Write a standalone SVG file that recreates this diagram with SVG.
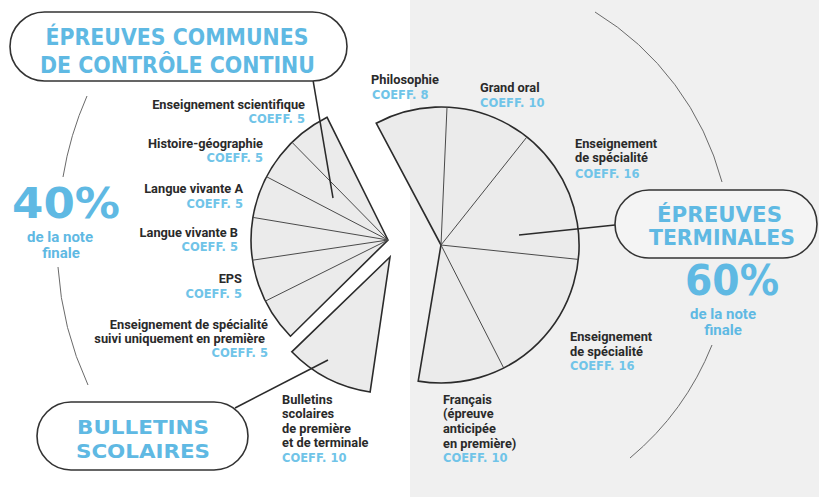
<svg xmlns="http://www.w3.org/2000/svg" width="819" height="497" viewBox="0 0 819 497">
<style>
.bg{fill:#ffffff}
.bg2{fill:#f0f0f0}
.pie{fill:#ebebeb;stroke:#2b2b2b;stroke-width:1.6;stroke-linejoin:miter}
.div{stroke:#4a4a4a;stroke-width:1;fill:none}
.box{stroke:#333;stroke-width:1.6}
.conn{stroke:#2b2b2b;stroke-width:1.5;fill:none}
.ring{stroke:#6a6a6a;stroke-width:1;fill:none}
.ttl{font-family:"DejaVu Sans",sans-serif;font-weight:bold;fill:#5fb9e3;text-anchor:middle}
.pct{font-family:"DejaVu Sans",sans-serif;font-weight:bold;fill:#5fb9e3;font-size:43px}
.sub{font-family:Roboto,"Liberation Sans",sans-serif;font-weight:bold;fill:#5fb9e3;font-size:15px;text-anchor:middle}
.lbl{font-family:Roboto,"Liberation Sans",sans-serif;font-weight:bold;fill:#2a2a2a;font-size:12.8px}
.cf{font-family:"DejaVu Sans",sans-serif;font-weight:bold;fill:#70c4e8;font-size:11.5px}
.e{text-anchor:end}
</style>
<rect class="bg" x="0" y="0" width="819" height="497"/>
<rect class="bg2" x="410" y="0" width="409" height="497"/>

<g id="rings">
<path class="ring" d="M87,96 A332,332 0 0 0 63,177"/>
<path class="ring" d="M58,267 A332,332 0 0 0 88,385"/>
<path class="ring" d="M595,12 A285,285 0 0 1 722,182"/>
<path class="ring" d="M712,345 A285,285 0 0 1 630,458"/>
</g>

<g id="pie-controle">
<path class="pie" d="M388,240 L327.1,117.3 A137,137 0 0 0 290.5,336.2 Z"/>
<path class="div" d="M388,240 L292,142.3 M388,240 L266.5,176.7 M388,240 L252.9,217.4 M388,240 L252.5,260.2 M388,240 L265.4,301.1"/>
</g>

<g id="pie-bulletins">
<path class="pie" d="M390,257 L291.8,351.8 A136.5,136.5 0 0 0 370.1,392 Z"/>
</g>

<g id="pie-terminales">
<path class="pie" d="M441,245 L376.2,123.2 A138,138 0 1 1 418.2,381.1 Z"/>
<path class="div" d="M441,245 L447,107.1 M441,245 L526.9,137 M441,245 L578.2,259.4 M441,245 L503.7,368"/>
</g>

<g id="connectors">
<path class="conn" d="M313,80 L333,198"/>
<path class="conn" d="M235,408 L328,360"/>
<path class="conn" d="M519,235 L615,225"/>
</g>

<g id="box-communes">
<rect class="box" x="10" y="12" width="337" height="69" rx="34.5" fill="#ffffff"/>
<text class="ttl" x="177" y="45" font-size="23" textLength="263" lengthAdjust="spacingAndGlyphs">ÉPREUVES COMMUNES</text>
<text class="ttl" x="177.5" y="73" font-size="23" textLength="275" lengthAdjust="spacingAndGlyphs">DE CONTRÔLE CONTINU</text>
</g>

<g id="box-bulletins">
<rect class="box" x="37" y="402" width="211" height="68" rx="34" fill="#ffffff"/>
<text class="ttl" x="143" y="434" font-size="20" textLength="132" lengthAdjust="spacingAndGlyphs">BULLETINS</text>
<text class="ttl" x="143" y="458" font-size="20" textLength="134" lengthAdjust="spacingAndGlyphs">SCOLAIRES</text>
</g>

<g id="box-terminales">
<rect class="box" x="615" y="190" width="202" height="68" rx="34" fill="#f4f4f4"/>
<text class="ttl" x="719.5" y="222" font-size="21" textLength="125" lengthAdjust="spacingAndGlyphs">ÉPREUVES</text>
<text class="ttl" x="722" y="245" font-size="21" textLength="146" lengthAdjust="spacingAndGlyphs">TERMINALES</text>
</g>

<g id="pct-40">
<text class="pct" x="12" y="218" textLength="108" lengthAdjust="spacingAndGlyphs">40%</text>
<text class="sub" x="60" y="242">de la note</text>
<text class="sub" x="61" y="258">finale</text>
</g>

<g id="pct-60">
<text class="pct" x="685" y="295" textLength="94" lengthAdjust="spacingAndGlyphs">60%</text>
<text class="sub" x="723" y="319">de la note</text>
<text class="sub" x="723" y="335">finale</text>
</g>

<g id="labels-left">
<text class="lbl e" x="305" y="109">Enseignement scientifique</text>
<text class="cf e" x="305" y="123">COEFF. 5</text>
<text class="lbl e" x="263" y="148">Histoire-géographie</text>
<text class="cf e" x="263" y="162">COEFF. 5</text>
<text class="lbl e" x="243" y="193">Langue vivante A</text>
<text class="cf e" x="243" y="208">COEFF. 5</text>
<text class="lbl e" x="238" y="237">Langue vivante B</text>
<text class="cf e" x="238" y="251">COEFF. 5</text>
<text class="lbl e" x="242" y="283">EPS</text>
<text class="cf e" x="242" y="298">COEFF. 5</text>
<text class="lbl e" x="268" y="329">Enseignement de spécialité</text>
<text class="lbl e" x="265" y="343">suivi uniquement en première</text>
<text class="cf e" x="268" y="357">COEFF. 5</text>
</g>

<g id="labels-right">
<text class="lbl" x="371" y="84">Philosophie</text>
<text class="cf" x="372" y="99">COEFF. 8</text>
<text class="lbl" x="480" y="92">Grand oral</text>
<text class="cf" x="480" y="107">COEFF. 10</text>
<text class="lbl" x="575" y="148">Enseignement</text>
<text class="lbl" x="575" y="162">de spécialité</text>
<text class="cf" x="575" y="178">COEFF. 16</text>
<text class="lbl" x="570" y="341">Enseignement</text>
<text class="lbl" x="570" y="356">de spécialité</text>
<text class="cf" x="570" y="370">COEFF. 16</text>
<text class="lbl" x="443" y="404">Français</text>
<text class="lbl" x="443" y="418">(épreuve</text>
<text class="lbl" x="443" y="433">anticipée</text>
<text class="lbl" x="443" y="448">en première)</text>
<text class="cf" x="443" y="462">COEFF. 10</text>
<text class="lbl" x="282" y="404">Bulletins</text>
<text class="lbl" x="282" y="418">scolaires</text>
<text class="lbl" x="282" y="433">de première</text>
<text class="lbl" x="282" y="447">et de terminale</text>
<text class="cf" x="282" y="462">COEFF. 10</text>
</g>
</svg>
